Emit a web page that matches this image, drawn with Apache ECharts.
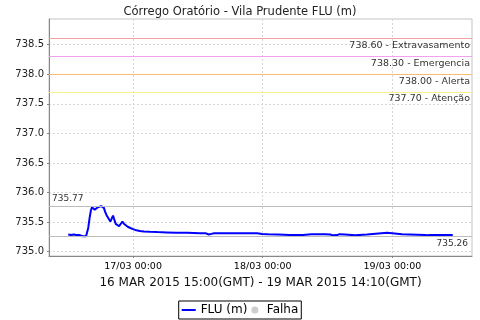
<!DOCTYPE html>
<html><head><meta charset="utf-8">
<script src="https://cdn.jsdelivr.net/npm/echarts@6/dist/echarts.min.js"></script>
<style>html,body{margin:0;padding:0;background:#fff}#c{width:480px;height:320px}</style>
</head><body><div id="c"></div>
<script>
const chartTitle = 'Córrego Oratório - Vila Prudente FLU (m)';
const xAxisName = '16 MAR 2015 15:00(GMT) - 19 MAR 2015 14:10(GMT)';
const seriesName = 'FLU (m)';
const failName = 'Falha';
// hours since 16/03 00:00 (local time)
const hours = [12.0,12.5,13.0,13.5,14.0,14.3,14.7,15.0,15.3,15.5,15.7,15.97,16.2,16.4,16.6,16.9,17.2,17.5,17.8,18.1,18.4,18.6,18.8,19.07,19.4,19.8,20.0,20.29,20.5,20.79,21.1,21.41,21.7,22.04,22.3,22.65,23.0,23.5,24.0,24.6,25.24,26.0,27.1,28.5,30.2,32.0,34.0,36.4,37.5,38.0,38.5,39.0,41.0,42.5,44.7,47.0,47.85,49.0,50.8,51.0,53.0,55.45,55.6,57.0,58.97,59.2,59.5,60.5,61.0,61.3,61.8,62.2,63.2,63.5,65.1,65.3,67.3,67.5,71.0,71.2,73.8,74.0,78.0,78.5,79.0,83.17];
const levels = [735.29,735.28,735.29,735.28,735.28,735.27,735.26,735.27,735.26,735.28,735.40,735.58,735.70,735.75,735.74,735.71,735.73,735.75,735.76,735.77,735.76,735.74,735.68,735.62,735.57,735.51,735.55,735.61,735.55,735.47,735.45,735.43,735.46,735.51,735.47,735.44,735.42,735.40,735.38,735.36,735.35,735.34,735.335,735.33,735.325,735.32,735.32,735.31,735.31,735.29,735.30,735.31,735.31,735.31,735.31,735.31,735.30,735.295,735.29,735.28,735.28,735.28,735.295,735.295,735.295,735.28,735.295,735.29,735.275,735.29,735.28,735.295,735.29,735.275,735.275,735.29,735.29,735.32,735.32,735.30,735.295,735.28,735.28,735.275,735.28,735.28];
const thresholdNames = ['Extravasamento','Emergencia','Alerta','Atenção'];
const thresholdValues = [738.60, 738.30, 738.00, 737.70];
const xTickValues = [24, 48, 72];
const xTickLabels = ['17/03 00:00','18/03 00:00','19/03 00:00'];
const yTickValues = [735.0,735.5,736.0,736.5,737.0,737.5,738.0,738.5];

const thresholdColors = ['#f4a2a2','#f0a2f0','#f8bb72','#faf08a'];
const FONT = 'DejaVu Sans';
const maxV = Math.max(...levels);
const minV = Math.min(...levels);
const points = hours.map((h,i)=>[h, levels[i]]);

const mlData = thresholdValues.map((v,i)=>({
  yAxis: v,
  lineStyle: {color: thresholdColors[i], type: 'solid', width: 1},
  label: {show: true, formatter: v.toFixed(2) + ' - ' + thresholdNames[i], position: 'insideEndBottom',
    distance: [2, 2], fontFamily: FONT, fontSize: 9.5, color: '#333'}
}));
mlData.push({yAxis: maxV, lineStyle: {color: '#bdbdbd', type: 'solid', width: 1},
  label: {show: true, formatter: maxV.toFixed(2), position: 'insideStartTop', distance: [3, 3],
    fontFamily: FONT, fontSize: 9, color: '#333'}});
mlData.push({yAxis: minV, lineStyle: {color: '#bdbdbd', type: 'solid', width: 1},
  label: {show: true, formatter: minV.toFixed(2), position: 'insideEndBottom', distance: [4, 3],
    fontFamily: FONT, fontSize: 9, color: '#333'}});

const chart = echarts.init(document.getElementById('c'), null, {renderer: 'canvas'});
chart.setOption({
  animation: false,
  backgroundColor: '#fff',
  title: {text: chartTitle, left: 'center', top: 1,
    textStyle: {fontFamily: FONT, fontSize: 11.5, fontWeight: 'normal', color: '#222'}},
  grid: {left: 49, right: 8, top: 19, bottom: 64, show: true, borderColor: '#c4c4c4', borderWidth: 1},
  legend: {bottom: 1, left: 'center',
    data: [{name: seriesName, icon: 'path://M0,0H14V2H0Z'}, {name: failName, icon: 'circle'}],
    itemWidth: 14, itemHeight: 7, itemGap: 4, borderColor: '#000', borderWidth: 1, borderRadius: 0,
    padding: [3, 3, 3, 3],
    textStyle: {fontFamily: FONT, fontSize: 12, color: '#000'}},
  xAxis: {type: 'value', min: 8.44, max: 86.73,
    name: xAxisName, nameLocation: 'middle', nameGap: 20,
    nameTextStyle: {fontFamily: FONT, fontSize: 12, color: '#111'},
    axisLine: {show: true, lineStyle: {color: '#888', width: 1}},
    axisTick: {show: true, customValues: xTickValues, length: 2, lineStyle: {color: '#888'}},
    axisLabel: {customValues: xTickValues, formatter: v => xTickLabels[xTickValues.indexOf(v)],
      fontFamily: FONT, fontSize: 9.5, color: '#000', margin: 6},
    splitLine: {show: true, lineStyle: {color: '#d6d6d6', type: [2, 2], width: 1}}},
  yAxis: {type: 'value', min: 734.926, max: 738.934,
    axisLine: {show: true, lineStyle: {color: '#888', width: 1}},
    axisTick: {show: true, customValues: yTickValues, length: 2, lineStyle: {color: '#888'}},
    axisLabel: {customValues: yTickValues, formatter: v => v.toFixed(1),
      fontFamily: FONT, fontSize: 10, color: '#222', margin: 5},
    splitLine: {show: true, lineStyle: {color: '#d6d6d6', type: [2, 2], width: 1}}},
  series: [
    {name: seriesName, type: 'line', data: points, symbol: 'none', showSymbol: false,
      lineStyle: {color: '#0000ff', width: 2}, itemStyle: {color: '#0000ff'},
      markLine: {silent: true, symbol: 'none', animation: false, data: mlData}},
    {name: failName, type: 'scatter', data: [], itemStyle: {color: '#c0c0c0'}}
  ]
});
</script></body></html>
